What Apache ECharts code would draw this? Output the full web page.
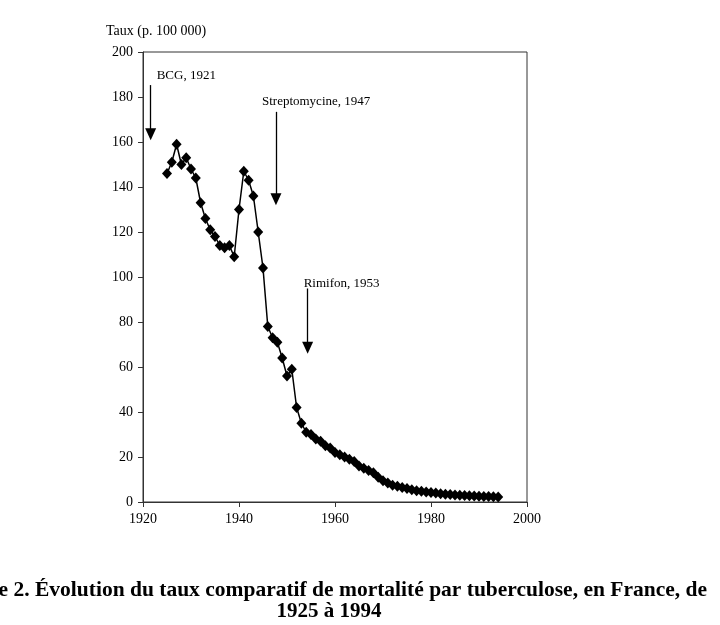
<!DOCTYPE html>
<html><head><meta charset="utf-8">
<script src="https://cdn.jsdelivr.net/npm/echarts@6/dist/echarts.min.js"></script>
<style>html,body{margin:0;padding:0;background:#fff;}#c{width:720px;height:625px;}</style>
</head><body><div id="c"></div>
<script>
// Data
const years = [];
for (let y = 1925; y <= 1994; y++) years.push(y);
const rates = [
  146, 151, 159, 150, 153, 148, 144, 133, 126, 121,   // 1925-1934
  118, 114, 113, 114, 109, 130, 147, 143, 136, 120,   // 1935-1944
  104, 78, 73, 71, 64, 56, 59, 42, 35, 31,            // 1945-1954
  30, 28, 27, 25, 24, 22, 21, 20, 19, 18,             // 1955-1964
  16, 15, 14, 13, 11, 9.5, 8.5, 7.5, 7, 6.5,          // 1965-1974
  6, 5.5, 5, 4.8, 4.5, 4.2, 4, 3.7, 3.5, 3.3,         // 1975-1984
  3.1, 3, 2.9, 2.8, 2.7, 2.6, 2.5, 2.4, 2.3, 2.2      // 1985-1994
];
const xTicks = [1920, 1940, 1960, 1980, 2000];
const yTicks = [0, 20, 40, 60, 80, 100, 120, 140, 160, 180, 200];
// Annotations (arrows): x in years, top and tip in rate units
const annText = ['BCG, 1921', 'Streptomycine, 1947', 'Rimifon, 1953'];
const annX = [1921.6, 1947.7, 1954.3];
const annTop = [185.3, 173.4, 94.9];
const annTip = [163.5, 134.6, 68.6];
const titleLine1 = 'Figure 2. Évolution du taux comparatif de mortalité par tuberculose, en France, de';
const titleLine2 = '1925 à 1994';

const serif = '"Liberation Serif", "Times New Roman", serif';
const chart = echarts.init(document.getElementById('c'));
const labelOffsets = [[6, -9], [-14, -10], [-4, -5]];

chart.setOption({
  backgroundColor: '#fff',
  animation: false,
  textStyle: { fontFamily: serif, color: '#000' },
  grid: { left: 143, right: 193, top: 52, bottom: 123, show: true, borderColor: '#333', borderWidth: 1, backgroundColor: 'transparent' },
  title: [{
    text: titleLine1, left: 702, top: 574, textAlign: 'right',
    textStyle: { fontFamily: serif, fontWeight: 'bold', fontSize: 21.5, color: '#000' }
  }, {
    text: titleLine2, left: 324, top: 596, textAlign: 'center',
    textStyle: { fontFamily: serif, fontWeight: 'bold', fontSize: 21, color: '#000' }
  }, {
    text: 'Taux (p. 100 000)', left: 101, top: 19,
    textStyle: { fontFamily: serif, fontWeight: 'normal', fontSize: 14, color: '#000' }
  }],
  xAxis: {
    type: 'value', min: xTicks[0], max: xTicks[xTicks.length - 1], interval: 20,
    axisLine: { show: true, lineStyle: { color: '#333', width: 1 } },
    axisTick: { show: true, inside: false, length: 5, lineStyle: { color: '#333' } },
    axisLabel: { fontFamily: serif, fontSize: 14, color: '#000', margin: 10, formatter: v => String(v) },
    splitLine: { show: false }
  },
  yAxis: {
    type: 'value', min: yTicks[0], max: yTicks[yTicks.length - 1], interval: 20,
    axisLine: { show: true, lineStyle: { color: '#333', width: 1 } },
    axisTick: { show: true, inside: false, length: 5, lineStyle: { color: '#333' } },
    axisLabel: { fontFamily: serif, fontSize: 14, color: '#000', margin: 10, formatter: v => String(v) },
    splitLine: { show: false }
  },
  series: [{
    type: 'line',
    data: years.map((y, i) => [y, rates[i]]),
    symbol: 'diamond', symbolSize: [10, 11], showAllSymbol: true,
    itemStyle: { color: '#000' },
    lineStyle: { color: '#000', width: 1.5 },
    markLine: {
      silent: true, animation: false,
      symbol: ['none', 'triangle'], symbolSize: [11, 12],
      lineStyle: { color: '#000', width: 1.3, type: 'solid' },
      label: { show: false },
      data: annX.map((x, i) => [{ coord: [x, annTop[i]] }, { coord: [x, annTip[i]] }])
    },
    z: 3
  }, {
    type: 'scatter',
    data: annX.map((x, i) => [x, annTop[i]]),
    symbolSize: 0,
    itemStyle: { color: '#000', opacity: 1 },
    label: {
      show: true, position: 'right',
      formatter: p => annText[p.dataIndex],
      fontFamily: serif, fontSize: 13, color: '#000', opacity: 1
    },
    labelLayout: p => ({ x: p.rect.x + labelOffsets[p.dataIndex][0], y: p.rect.y + labelOffsets[p.dataIndex][1], align: 'left', verticalAlign: 'middle' }),
    silent: true, z: 4
  }]
});
</script></body></html>
